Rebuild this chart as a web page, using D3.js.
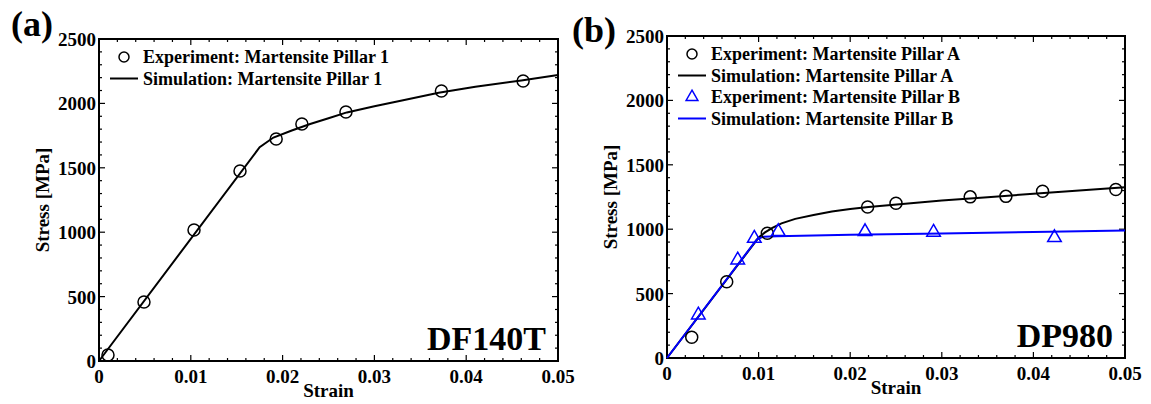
<!DOCTYPE html>
<html>
<head>
<meta charset="utf-8">
<script src="https://cdn.jsdelivr.net/npm/d3@7"></script>
<style>
  html, body { margin: 0; padding: 0; background: #fff; }
  svg text { font-family: 'Liberation Serif', 'Times New Roman', Times, 'DejaVu Serif', serif; font-weight: 700; }
</style>
</head>
<body>
<svg id="chart" width="1151" height="404"></svg>
<script>
// ---------- data ----------
const xTickValues = [0, 0.01, 0.02, 0.03, 0.04, 0.05];
const yTickValues = [0, 500, 1000, 1500, 2000, 2500];
const xTickLabels = ["0", "0.01", "0.02", "0.03", "0.04", "0.05"];
const yTickLabels = ["0", "500", "1000", "1500", "2000", "2500"];

// Panel (a) DF140T
const expP1Strain = [0.00098, 0.0049, 0.01035, 0.01536, 0.0193, 0.0221, 0.0269, 0.0373, 0.0462];
const expP1Stress = [47, 458, 1017, 1475, 1724, 1840, 1933, 2096, 2174];
const simP1Strain = [0, 0.0175, 0.019, 0.021, 0.023, 0.025, 0.027, 0.030, 0.033, 0.037, 0.041, 0.046, 0.05];
const simP1Stress = [0, 1660, 1735, 1790, 1840, 1885, 1930, 1978, 2022, 2082, 2130, 2178, 2220];

// Panel (b) DP980
const expPAStrain = [0.0027, 0.00652, 0.01095, 0.0219, 0.025, 0.0331, 0.037, 0.041, 0.049];
const expPAStress = [161, 592, 968, 1172, 1202, 1251, 1255, 1295, 1308];
const simPAStrain = [0, 0.0100, 0.0107, 0.0115, 0.0125, 0.014, 0.016, 0.018, 0.020, 0.022, 0.026, 0.030, 0.035, 0.040, 0.045, 0.050];
const simPAStress = [0, 935, 975, 1010, 1045, 1080, 1110, 1137, 1157, 1172, 1198, 1222, 1248, 1275, 1300, 1325];
const expPBStrain = [0.00342, 0.00772, 0.00953, 0.01215, 0.02162, 0.0291, 0.0423];
const expPBStress = [334, 761, 929, 981, 981, 976, 934];
const simPBStrain = [0, 0.0098, 0.0105, 0.012, 0.020, 0.030, 0.040, 0.050];
const simPBStress = [0, 920, 942, 946, 956, 967, 978, 990];

const legendA = ["Experiment: Martensite Pillar 1", "Simulation: Martensite Pillar 1"];
const legendB = ["Experiment: Martensite Pillar A", "Simulation: Martensite Pillar A",
                 "Experiment: Martensite Pillar B", "Simulation: Martensite Pillar B"];

const zip = (xs, ys) => xs.map((x, i) => [x, ys[i]]);
const FONT = "'Liberation Serif', 'Times New Roman', Times, 'DejaVu Serif', serif";

const svg = d3.select("#chart");

function drawPanel(cfg) {
  const g = svg.append("g");
  const x = d3.scaleLinear().domain([0, 0.05]).range([cfg.left, cfg.right]);
  const y = d3.scaleLinear().domain([0, 2500]).range([cfg.bottom, cfg.top]);

  const minorX = d3.range(0, 0.0501, 0.002).filter(v => Math.abs(v / 0.01 - Math.round(v / 0.01)) > 1e-6);
  const minorY = d3.range(0, 2501, 100).filter(v => v % 500 !== 0);

  const tickStyle = sel => sel.attr("stroke", "#000").attr("stroke-width", 1.2);
  const addTicks = (vals, len, horiz) => {
    vals.forEach(v => {
      if (horiz) {
        g.append("line").attr("x1", x(v)).attr("x2", x(v)).attr("y1", cfg.bottom).attr("y2", cfg.bottom - len).call(tickStyle);
        g.append("line").attr("x1", x(v)).attr("x2", x(v)).attr("y1", cfg.top).attr("y2", cfg.top + len).call(tickStyle);
      } else {
        g.append("line").attr("y1", y(v)).attr("y2", y(v)).attr("x1", cfg.left).attr("x2", cfg.left + len).call(tickStyle);
        g.append("line").attr("y1", y(v)).attr("y2", y(v)).attr("x1", cfg.right).attr("x2", cfg.right - len).call(tickStyle);
      }
    });
  };
  addTicks(minorX, 3, true);
  addTicks(minorY, 3, false);
  addTicks(xTickValues, 6, true);
  addTicks(yTickValues, 6, false);

  g.append("rect").attr("x", cfg.left).attr("y", cfg.top)
    .attr("width", cfg.right - cfg.left).attr("height", cfg.bottom - cfg.top)
    .attr("fill", "none").attr("stroke", "#000").attr("stroke-width", 2);

  const txt = () => g.append("text").attr("font-family", FONT).attr("font-weight", "bold");

  xTickValues.forEach((d, i) => {
    txt().attr("x", x(d)).attr("y", cfg.bottom + 22)
      .attr("text-anchor", "middle").attr("font-size", 19).text(xTickLabels[i]);
  });
  yTickValues.forEach((d, i) => {
    txt().attr("x", cfg.left - 3).attr("y", y(d) + 7)
      .attr("text-anchor", "end").attr("font-size", 19).text(yTickLabels[i]);
  });

  txt().attr("x", (cfg.left + cfg.right) / 2).attr("y", cfg.bottom + 36)
    .attr("text-anchor", "middle").attr("font-size", 19).text("Strain");
  txt().attr("transform", `translate(${cfg.left - 50},${(cfg.top + cfg.bottom) / 2}) rotate(-90)`)
    .attr("text-anchor", "middle").attr("font-size", 19).text("Stress [MPa]");

  txt().attr("x", cfg.letterX).attr("y", cfg.letterY)
    .attr("font-size", 36).text(cfg.letter);

  txt().attr("x", cfg.right - 12).attr("y", cfg.bottom - 11)
    .attr("text-anchor", "end").attr("font-size", 34).text(cfg.material);

  const line = d3.line().x(d => x(d[0])).y(d => y(d[1]));

  cfg.series.forEach(s => {
    if (s.type === "line") {
      g.append("path").datum(s.data).attr("d", line)
        .attr("fill", "none").attr("stroke", s.color).attr("stroke-width", 2);
    } else if (s.type === "circle") {
      g.selectAll(null).data(s.data).enter().append("circle")
        .attr("cx", d => x(d[0])).attr("cy", d => y(d[1])).attr("r", 6)
        .attr("fill", "none").attr("stroke", s.color).attr("stroke-width", 1.5);
    } else if (s.type === "triangle") {
      const tri = d3.symbol().type(d3.symbolTriangle).size(80);
      g.selectAll(null).data(s.data).enter().append("path")
        .attr("d", tri)
        .attr("transform", d => `translate(${x(d[0])},${y(d[1])})`)
        .attr("fill", "none").attr("stroke", s.color).attr("stroke-width", 1.5);
    }
  });

  cfg.legend.forEach((item, i) => {
    const cy = cfg.legendY + i * 21.5;
    const mx = cfg.legendX;
    if (item.type === "circle") {
      g.append("circle").attr("cx", mx).attr("cy", cy - 6).attr("r", 5)
        .attr("fill", "none").attr("stroke", item.color).attr("stroke-width", 1.5);
    } else if (item.type === "triangle") {
      g.append("path").attr("d", d3.symbol().type(d3.symbolTriangle).size(60))
        .attr("transform", `translate(${mx},${cy - 6})`)
        .attr("fill", "none").attr("stroke", item.color).attr("stroke-width", 1.5);
    } else {
      g.append("line").attr("x1", mx - 14).attr("x2", mx + 14).attr("y1", cy - 6).attr("y2", cy - 6)
        .attr("stroke", item.color).attr("stroke-width", 2);
    }
    txt().attr("x", mx + 19).attr("y", cy)
      .attr("font-size", 18).text(item.label);
  });
}

drawPanel({
  left: 99, right: 558, top: 39, bottom: 361,
  letter: "(a)", letterX: 11, letterY: 36, material: "DF140T",
  legendX: 124, legendY: 63,
  series: [
    { type: "line", color: "#000", data: zip(simP1Strain, simP1Stress) },
    { type: "circle", color: "#000", data: zip(expP1Strain, expP1Stress) }
  ],
  legend: [
    { type: "circle", color: "#000", label: legendA[0] },
    { type: "line", color: "#000", label: legendA[1] }
  ]
});

drawPanel({
  left: 667, right: 1125, top: 36, bottom: 358,
  letter: "(b)", letterX: 572, letterY: 42, material: "DP980",
  legendX: 692, legendY: 60,
  series: [
    { type: "line", color: "#000", data: zip(simPAStrain, simPAStress) },
    { type: "line", color: "#0000ff", data: zip(simPBStrain, simPBStress) },
    { type: "circle", color: "#000", data: zip(expPAStrain, expPAStress) },
    { type: "triangle", color: "#0000ff", data: zip(expPBStrain, expPBStress) }
  ],
  legend: [
    { type: "circle", color: "#000", label: legendB[0] },
    { type: "line", color: "#000", label: legendB[1] },
    { type: "triangle", color: "#0000ff", label: legendB[2] },
    { type: "line", color: "#0000ff", label: legendB[3] }
  ]
});
</script>
</body>
</html>
